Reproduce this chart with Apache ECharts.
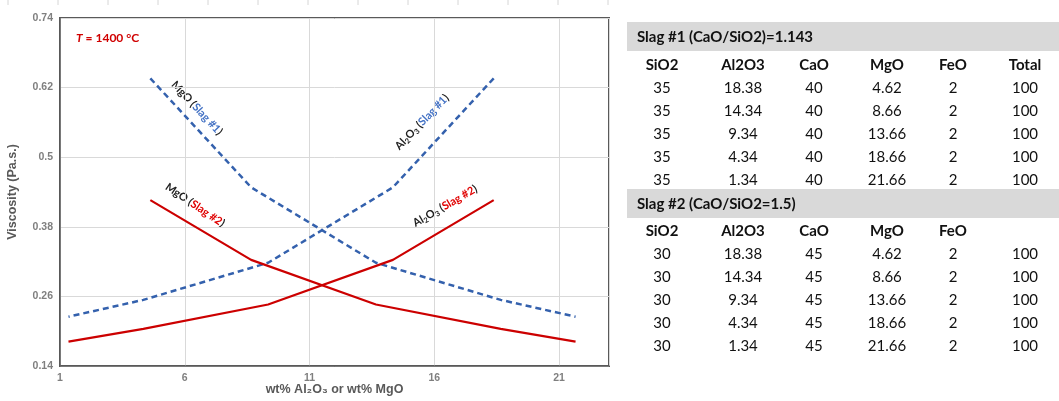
<!DOCTYPE html>
<html lang="en">
<head>
  <meta charset="UTF-8">
  <title>Viscosity vs Al2O3 / MgO</title>
  <script src="https://cdn.jsdelivr.net/npm/echarts@6/dist/echarts.min.js"></script>
  <style>
    html, body { margin: 0; padding: 0; background: #fff; }
    #main { width: 1059px; height: 401px; }
  </style>
</head>
<body>
<div id="main"></div>
<script>
  // slag compositions (wt%), same rows in both slags for Al2O3 / MgO
  const al2o3 = [18.38, 14.34, 9.34, 4.34, 1.34];
  const mgo = [4.62, 8.66, 13.66, 18.66, 21.66];
  const feo = [2, 2, 2, 2, 2];
  const total = [100, 100, 100, 100, 100];
  const sio2Slag1 = [35, 35, 35, 35, 35];
  const caoSlag1 = [40, 40, 40, 40, 40];
  const sio2Slag2 = [30, 30, 30, 30, 30];
  const caoSlag2 = [45, 45, 45, 45, 45];
  // viscosity (Pa.s) of each composition row
  const viscSlag1 = [0.636, 0.448, 0.318, 0.254, 0.225];
  const viscSlag2 = [0.426, 0.323, 0.246, 0.204, 0.182];
  const tableHead = ['SiO2', 'Al2O3', 'CaO', 'MgO', 'FeO', 'Total'];

  const BLUE = '#3461ad';
  const RED = '#cc0000';
  const GRAY = '#595959';

  function pairs(xs, ys) {
    return xs.map(function (x, i) { return [x, ys[i]]; });
  }

  // ---- table drawn as graphic elements ----
  const colX = [662, 743, 814, 887, 953, 1025];
  const tableFont = 'Lato, "Open Sans", sans-serif';
  let tableGraphics = [];

  function addTable(title, bandTop, headY, rowY0, sio2, cao, showTotalHead) {
    tableGraphics.push({
      type: 'rect', shape: {x: 627, y: bandTop, width: 432, height: 29},
      style: {fill: '#d9d9d9'}
    });
    tableGraphics.push({
      type: 'text', x: 637, y: bandTop + 15,
      style: {text: title, fontFamily: tableFont, fontWeight: 'bold', fontSize: 15,
        fill: '#111', verticalAlign: 'middle'}
    });
    tableHead.forEach(function (h, c) {
      if (c === 5 && !showTotalHead) return;
      tableGraphics.push({
        type: 'text', x: colX[c], y: headY,
        style: {text: h, fontFamily: tableFont, fontWeight: 'bold', fontSize: 15,
          fill: '#111', align: 'center', verticalAlign: 'middle'}
      });
    });
    for (let r = 0; r < 5; r++) {
      const row = [sio2[r], al2o3[r].toFixed(2), cao[r], mgo[r].toFixed(2), feo[r], total[r]];
      row.forEach(function (v, c) {
        tableGraphics.push({
          type: 'text', x: colX[c], y: rowY0 + r * 23,
          style: {text: String(v), fontFamily: tableFont, fontSize: 15,
            fill: '#111', align: 'center', verticalAlign: 'middle'}
        });
      });
    }
  }
  addTable('Slag #1 (CaO/SiO2)=1.143', 22, 65, 88, sio2Slag1, caoSlag1, true);
  addTable('Slag #2 (CaO/SiO2=1.5)', 189, 231, 254, sio2Slag2, caoSlag2, false);

  // faint spreadsheet ticks along the top edge
  let edgeTicks = [];
  for (let x = 8; x <= 610; x += 50) {
    edgeTicks.push({type: 'line', shape: {x1: x, y1: 0, x2: x, y2: 5},
      style: {stroke: '#d6d6d6', lineWidth: 1}});
  }

  // ---- curve annotations ----
  const labelFont = 'Lato, "Open Sans", sans-serif';
  const richLab = {
    k: {fontFamily: labelFont, fontWeight: 'bold', fontSize: 11, fill: '#222', lineHeight: 14},
    s: {fontFamily: labelFont, fontWeight: 'bold', fontSize: 7.5, fill: '#222', lineHeight: 14,
      verticalAlign: 'bottom'},
    b: {fontFamily: labelFont, fontWeight: 'bold', fontSize: 11, fill: '#4472c4', lineHeight: 14},
    r: {fontFamily: labelFont, fontWeight: 'bold', fontSize: 11, fill: '#e00000', lineHeight: 14}
  };
  function note(x, y, deg, text) {
    return {
      type: 'text', x: x, y: y, rotation: deg * Math.PI / 180,
      style: {text: text, rich: richLab, align: 'center', verticalAlign: 'middle'}
    };
  }
  const notes = [
    note(197, 108, -47, '{k|MgO (}{b|Slag #1}{k|)}'),
    note(422, 122, 46, '{k|Al}{s|2}{k|O}{s|3}{k| (}{b|Slag #1}{k|)}'),
    note(195, 205, -34, '{k|MgO (}{r|Slag #2}{k|)}'),
    note(445, 206, 30, '{k|Al}{s|2}{k|O}{s|3}{k| (}{r|Slag #2}{k|)}'),
    {
      type: 'text', x: 76, y: 38,
      style: {
        text: '{i|T}{n| = 1400 °C}', verticalAlign: 'middle',
        rich: {
          i: {fontFamily: labelFont, fontWeight: 'bold', fontStyle: 'italic', fontSize: 12, fill: '#d00000'},
          n: {fontFamily: labelFont, fontWeight: 'bold', fontSize: 12, fill: '#d00000'}
        }
      }
    }
  ];

  const chart = echarts.init(document.getElementById('main'));
  const option = {
    backgroundColor: '#fff',
    animation: false,
    grid: {
      left: 60, right: 450, top: 18, bottom: 35,
      outerBoundsMode: 'none', containLabel: false,
      show: true, borderColor: GRAY, borderWidth: 2
    },
    xAxis: {
      type: 'value', min: 1, max: 23, interval: 5,
      name: 'wt% Al\u2082O\u2083 or wt% MgO',
      nameLocation: 'middle', nameGap: 17, nameMoveOverlap: false,
      nameTextStyle: {color: GRAY, fontWeight: 'bold', fontSize: 12.5,
        fontFamily: '"Liberation Sans", Arial, sans-serif'},
      axisLine: {lineStyle: {color: GRAY, width: 1.5}},
      axisTick: {show: false},
      axisLabel: {color: '#7f7f7f', fontWeight: 'bold', fontSize: 10.5, margin: 7,
        showMaxLabel: false, fontFamily: '"Liberation Sans", Arial, sans-serif'},
      splitLine: {lineStyle: {color: '#d9d9d9', width: 1}}
    },
    yAxis: {
      type: 'value', min: 0.14, max: 0.74, interval: 0.12,
      name: 'Viscosity (Pa.s.)',
      nameLocation: 'middle', nameGap: 41, nameRotate: 90, nameMoveOverlap: false,
      nameTextStyle: {color: GRAY, fontWeight: 'bold', fontSize: 12.5,
        fontFamily: '"Liberation Sans", Arial, sans-serif'},
      axisLine: {show: true, lineStyle: {color: GRAY, width: 1.5}},
      axisTick: {show: false},
      axisLabel: {color: '#7f7f7f', fontWeight: 'bold', fontSize: 10.5, margin: 7,
        fontFamily: '"Liberation Sans", Arial, sans-serif'},
      splitLine: {lineStyle: {color: '#d9d9d9', width: 1}}
    },
    series: [
      {
        name: 'Al2O3 (Slag #1)', type: 'line', data: pairs(al2o3, viscSlag1),
        symbol: 'none', lineStyle: {color: BLUE, width: 2.5, type: [6, 4]}
      },
      {
        name: 'MgO (Slag #1)', type: 'line', data: pairs(mgo, viscSlag1),
        symbol: 'none', lineStyle: {color: BLUE, width: 2.5, type: [6, 4]}
      },
      {
        name: 'Al2O3 (Slag #2)', type: 'line', data: pairs(al2o3, viscSlag2),
        symbol: 'none', lineStyle: {color: RED, width: 2.2}
      },
      {
        name: 'MgO (Slag #2)', type: 'line', data: pairs(mgo, viscSlag2),
        symbol: 'none', lineStyle: {color: RED, width: 2.2}
      }
    ],
    graphic: edgeTicks.concat(tableGraphics).concat(notes)
  };
  chart.setOption(option);
</script>
</body>
</html>
